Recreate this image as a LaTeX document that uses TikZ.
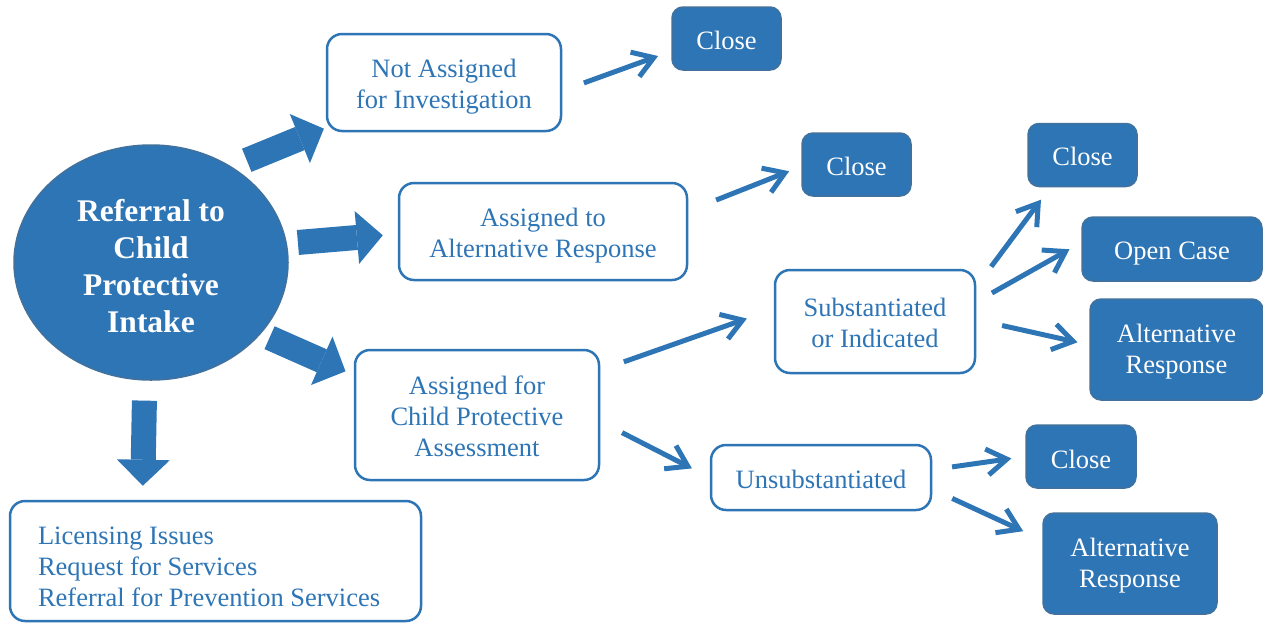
\documentclass[tikz,border=0pt]{standalone}
\usepackage{fontspec}
\setmainfont{Liberation Serif}
\usetikzlibrary{positioning,shapes.geometric,arrows.meta}
\definecolor{cpblue}{RGB}{46,117,182}
\definecolor{cpedge}{RGB}{65,113,156}
\newcommand\boxfont{\fontsize{26.5}{31}\selectfont}
\newcommand\ovalfont{\fontsize{31.5}{37}\selectfont\bfseries}

\begin{document}
\begin{tikzpicture}[x=1pt,y=-1pt]
\tikzset{
  intakeoval/.style={ellipse, fill=cpblue, draw=cpedge, line width=1.5pt, text=white, font=\ovalfont, align=center, inner sep=0pt},
  outbox/.style={draw=cpblue, line width=2.5pt, rounded corners=15pt, fill=white, text=cpblue, align=center, font=\boxfont, inner sep=0pt},
  endbox/.style={draw=cpedge, line width=1.5pt, rounded corners=11pt, fill=cpblue, text=white, align=center, font=\boxfont, inner sep=0pt},
  fatarrow/.style={draw=cpblue, line width=25pt, -{Triangle[length=26pt,width=53pt,line width=0pt]}},
  thinarrow/.style={draw=cpblue, line width=5pt, -{Straight Barb[length=20pt,width=26pt]}}
}
\fill[white] (0,0) rectangle (1263,622);
\useasboundingbox (0,0) rectangle (1263,622);
% intake and the first split
\node[intakeoval, minimum width=274pt, minimum height=235pt, text height=141pt] (intake) at (151,262.5) {Referral to\\Child\\Protective\\Intake};
\node[outbox, minimum width=234pt, minimum height=97pt, text height=57pt] (notassigned) at (444,82.5) {Not Assigned\\for Investigation};
\node[outbox, minimum width=288pt, minimum height=97pt, text height=57pt] (altresp) at (543,231.5) {Assigned to\\Alternative Response};
\node[outbox, minimum width=244pt, minimum height=130pt, text height=84pt] (cpa) at (477,415) {Assigned for\\Child Protective\\Assessment};
\node[outbox, align=flush left, text width=355pt, inner xsep=28pt, minimum height=120pt, text height=30pt] (other) at (215.5,561) {Licensing Issues\\Request for Services\\Referral for Prevention Services};
% assessment findings
\node[outbox, minimum width=200pt, minimum height=103pt, text height=53pt] (subst) at (875,321.5) {Substantiated\\or Indicated};
\node[outbox, minimum width=220pt, minimum height=65pt, text height=22pt] (unsubst) at (821,477.5) {Unsubstantiated};
% outcomes
\node[endbox, minimum width=109pt, minimum height=63pt, text height=22pt] (close1) at (726.5,38.5) {Close};
\node[endbox, minimum width=109pt, minimum height=63pt, text height=22pt] (close2) at (856.5,164.5) {Close};
\node[endbox, minimum width=109pt, minimum height=63pt, text height=22pt] (close3) at (1082.5,155) {Close};
\node[endbox, minimum width=180pt, minimum height=64pt, text height=27pt] (opencase) at (1172,249) {Open Case};
\node[endbox, minimum width=173pt, minimum height=101pt, text height=53pt] (altresp1) at (1176.5,349.5) {Alternative\\Response};
\node[endbox, minimum width=110pt, minimum height=63pt, text height=24pt] (close4) at (1081,456.5) {Close};
\node[endbox, minimum width=174pt, minimum height=101pt, text height=53pt] (altresp2) at (1130,563.5) {Alternative\\Response};
% block arrows
\draw[fatarrow, shorten <=16.5pt, shorten >=2pt] (intake.50) -- (notassigned.201);
\draw[fatarrow, shorten <=11pt, shorten >=15pt] (intake.8) -- (altresp.181);
\draw[fatarrow, shorten <=9.5pt, shorten >=9pt] (intake.-33) -- (cpa.162);
\draw[fatarrow, shorten <=20pt, shorten >=14pt] (intake.-93) -- (other.140);
% line arrows
\draw[thinarrow, shorten <=23pt, shorten >=14pt] (notassigned.-4) -- (close1.193);
\draw[thinarrow, shorten <=30pt, shorten >=13pt] (altresp.8) -- (close2.182);
\draw[thinarrow, shorten <=25pt, shorten >=28.5pt] (cpa.20) -- (subst.173);
\draw[thinarrow, shorten <=24.5pt, shorten >=20pt] (cpa.-3) -- (unsubst.180);
\draw[thinarrow, shorten <=25pt, shorten >=15.5pt] (subst.19) -- (close3.225);
\draw[thinarrow, shorten <=18pt, shorten >=13.5pt] (subst.11) -- (opencase.176);
\draw[thinarrow, shorten <=26.5pt, shorten >=12pt] (subst.1) -- (altresp1.177);
\draw[thinarrow, shorten <=20pt, shorten >=14pt] (unsubst.4) -- (close4.180);
\draw[thinarrow, shorten <=22pt, shorten >=21pt] (unsubst.-6) -- (altresp2.165);
\end{tikzpicture}
\end{document}
